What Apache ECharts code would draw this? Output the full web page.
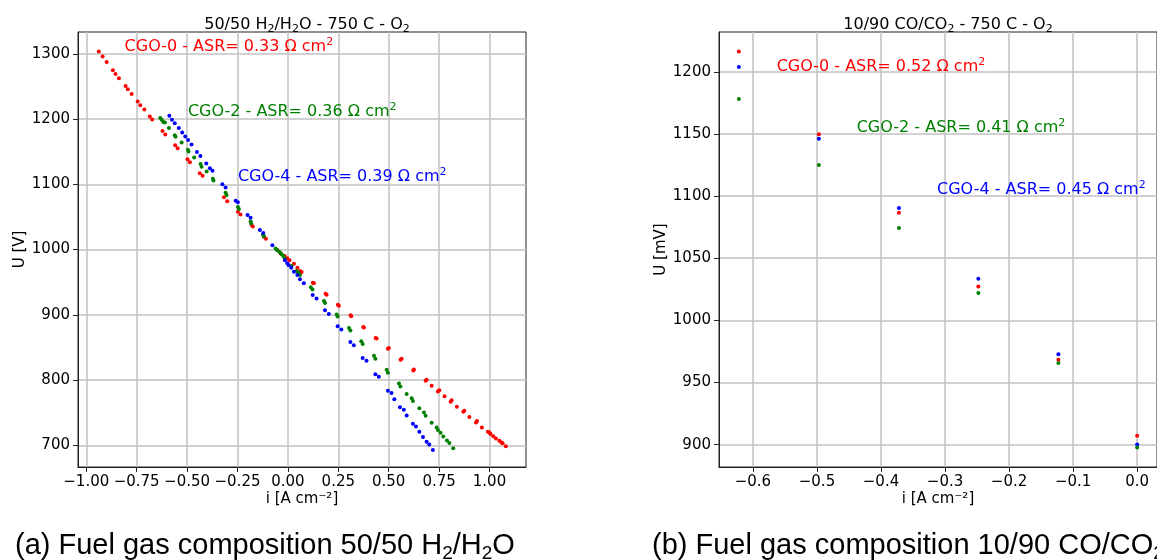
<!DOCTYPE html>
<html>
<head>
<meta charset="UTF-8">
<title>ASR CGO</title>
<script src="https://cdn.jsdelivr.net/npm/echarts@6/dist/echarts.min.js"></script>
<style>
  html, body { margin: 0; padding: 0; background: #fff; }
  #chart { width: 1157px; height: 560px; }
</style>
</head>
<body>
<div id="chart"></div>
<script>
// (a) 50/50 H2/H2O, points as [i, U]
var h2Cgo0 = [[-0.938,1303.5],[-0.919,1295.8],[-0.899,1287.7],[-0.868,1274.9],[-0.855,1269.2],[-0.838,1262.6],[-0.805,1250.7],[-0.794,1245.6],[-0.775,1238.4],[-0.745,1227.1],[-0.732,1221.4],[-0.712,1214.8],[-0.685,1204.0],[-0.673,1199.4],[-0.622,1181.8],[-0.608,1176.3],[-0.559,1159.8],[-0.547,1155.2],[-0.498,1138.5],[-0.486,1134.0],[-0.437,1117.1],[-0.423,1113.1],[-0.317,1080.1],[-0.301,1074.0],[-0.248,1058.1],[-0.235,1053.9],[-0.180,1037.6],[-0.174,1035.4],[-0.119,1019.6],[-0.109,1016.5],[-0.051,999.0],[-0.036,993.8],[-0.016,990.3],[-0.003,986.7],[0.008,983.7],[0.030,978.4],[0.047,972.3],[0.060,967.2],[0.068,965.6],[0.124,949.2],[0.129,948.2],[0.187,932.2],[0.192,930.7],[0.248,915.3],[0.253,913.7],[0.311,899.4],[0.314,897.8],[0.374,881.4],[0.377,880.4],[0.435,864.4],[0.440,863.5],[0.496,848.1],[0.501,849.0],[0.559,831.1],[0.564,832.7],[0.622,814.6],[0.625,816.2],[0.683,798.8],[0.688,800.3],[0.713,791.1],[0.744,782.3],[0.751,784.3],[0.777,775.0],[0.807,766.9],[0.812,768.9],[0.838,759.2],[0.870,751.5],[0.875,753.0],[0.900,743.3],[0.933,735.0],[0.938,737.1],[0.962,727.3],[0.992,720.7],[1.000,719.6],[1.005,717.1],[1.019,714.0],[1.032,710.3],[1.049,706.8],[1.060,704.2],[1.065,703.2],[1.081,698.6]];
var h2Cgo2 = [[-0.633,1201.8],[-0.626,1199.1],[-0.618,1195.7],[-0.610,1194.8],[-0.590,1186.4],[-0.561,1175.2],[-0.557,1172.9],[-0.527,1164.1],[-0.496,1152.9],[-0.493,1150.5],[-0.465,1141.3],[-0.433,1131.0],[-0.428,1127.0],[-0.403,1119.7],[-0.372,1108.5],[-0.369,1105.9],[-0.309,1086.9],[-0.304,1083.8],[-0.248,1065.3],[-0.243,1062.2],[-0.185,1043.1],[-0.182,1040.4],[-0.124,1023.1],[-0.119,1020.6],[-0.061,1001.5],[-0.053,999.1],[-0.040,996.0],[-0.031,992.9],[-0.023,990.3],[-0.016,986.7],[0.018,974.9],[0.043,967.2],[0.052,964.6],[0.060,961.0],[0.114,942.1],[0.122,938.7],[0.179,921.0],[0.184,917.9],[0.242,900.5],[0.247,897.4],[0.303,879.8],[0.310,875.8],[0.364,859.3],[0.371,855.2],[0.427,837.3],[0.434,832.7],[0.490,815.7],[0.496,811.1],[0.551,794.6],[0.558,790.0],[0.589,778.7],[0.614,771.9],[0.620,767.9],[0.652,756.6],[0.675,750.4],[0.683,745.3],[0.713,734.5],[0.738,727.3],[0.744,723.3],[0.757,719.2],[0.771,713.5],[0.789,707.3],[0.801,703.3],[0.820,695.5]];
var h2Cgo4 = [[-0.588,1205.2],[-0.575,1199.1],[-0.561,1193.7],[-0.541,1186.3],[-0.524,1179.5],[-0.509,1173.2],[-0.495,1168.0],[-0.478,1160.9],[-0.451,1149.5],[-0.434,1143.3],[-0.405,1132.0],[-0.387,1124.8],[-0.374,1120.8],[-0.325,1100.2],[-0.309,1095.1],[-0.259,1075.0],[-0.248,1072.4],[-0.200,1053.0],[-0.185,1048.8],[-0.139,1029.9],[-0.122,1025.3],[-0.077,1006.8],[-0.015,983.7],[-0.003,979.0],[0.003,976.4],[0.017,972.3],[0.030,966.1],[0.047,961.0],[0.060,954.4],[0.079,948.4],[0.123,930.2],[0.142,925.1],[0.184,907.1],[0.203,901.4],[0.247,882.4],[0.265,877.4],[0.310,858.2],[0.327,853.2],[0.371,833.6],[0.390,829.6],[0.434,808.9],[0.451,804.9],[0.496,783.4],[0.514,780.3],[0.528,770.4],[0.556,758.1],[0.575,754.5],[0.589,745.8],[0.620,733.0],[0.635,728.8],[0.652,720.7],[0.670,712.5],[0.688,705.3],[0.701,701.1],[0.719,692.9]];

// (b) 10/90 CO/CO2, U in mV
var coCurrent = [-0.622, -0.497, -0.372, -0.248, -0.123, 0.0];
var coCgo0 = [1216.4, 1149.7, 1086.6, 1027.2, 968.2, 907.2];
var coCgo2 = [1178.0, 1125.0, 1074.3, 1021.9, 965.6, 897.6];
var coCgo4 = [1203.8, 1146.2, 1090.4, 1033.4, 972.8, 900.2];

// tick values
var h2XTicks = [-1, -0.75, -0.5, -0.25, 0, 0.25, 0.5, 0.75, 1];
var h2YTicks = [700, 800, 900, 1000, 1100, 1200, 1300];
var coXTicks = [-0.6, -0.5, -0.4, -0.3, -0.2, -0.1, 0];
var coYTicks = [900, 950, 1000, 1050, 1100, 1150, 1200];

// annotation labels [text, i, U, colour]
var h2Notes = [['CGO-0 - ASR= 0.33 Ω cm', -0.81, 1311, '#ff0000'], ['CGO-2 - ASR= 0.36 Ω cm', -0.496, 1211, '#008000'], ['CGO-4 - ASR= 0.39 Ω cm', -0.248, 1112, '#0000ff']];
var coNotes = [['CGO-0 - ASR= 0.52 Ω cm', -0.563, 1204, '#ff0000'], ['CGO-2 - ASR= 0.41 Ω cm', -0.438, 1155, '#008000'], ['CGO-4 - ASR= 0.45 Ω cm', -0.3125, 1105, '#0000ff']];

var FONT = 'DejaVu Sans';

function fmt(dec) {
	return function(v) {
		return (v < 0 ? '\u2212' : '') + Math.abs(v).toFixed(dec);
	};
}

function xAxisOf(grid, min, max, ticks, dec) {
	return {
		type: 'value', gridIndex: grid, min: min, max: max,
		name: 'i [A cm⁻²]', nameLocation: 'middle', nameGap: 25, nameMoveOverlap: false,
		nameTextStyle: { fontFamily: FONT, fontSize: 15, color: '#000' },
		axisLine: { show: true, onZero: false, lineStyle: { color: '#222', width: 1 } },
		axisTick: { show: true, inside: false, length: 5, customValues: ticks, lineStyle: { color: '#222' } },
		axisLabel: { customValues: ticks, margin: 8, formatter: fmt(dec), fontFamily: FONT, fontSize: 15, color: '#000' },
		splitLine: { show: true, lineStyle: { color: '#c2c2c2', width: 1.5 } }
	};
}

function yAxisOf(grid, min, max, ticks, name, gap) {
	return {
		type: 'value', gridIndex: grid, min: min, max: max,
		name: name, nameLocation: 'middle', nameGap: gap, nameMoveOverlap: false,
		nameTextStyle: { fontFamily: FONT, fontSize: 15, color: '#000' },
		axisLine: { show: true, onZero: false, lineStyle: { color: '#222', width: 1 } },
		axisTick: { show: true, inside: false, length: 5, customValues: ticks, lineStyle: { color: '#222' } },
		axisLabel: { customValues: ticks, margin: 8, formatter: fmt(0), fontFamily: FONT, fontSize: 15, color: '#000' },
		splitLine: { show: true, lineStyle: { color: '#c2c2c2', width: 1.5 } }
	};
}

function dots(name, data, color, x, y) {
	return {
		name: name, type: 'scatter', xAxisIndex: x, yAxisIndex: y,
		data: data, symbolSize: 4, itemStyle: { color: color, opacity: 1 },
		silent: true, animation: false
	};
}

function zip(a, b) {
	return a.map(function(v, k) { return [v, b[k]]; });
}

// title text with real subscripts
var titleRich = {
	n: { fontFamily: FONT, fontSize: 16, color: '#000', lineHeight: 20 },
	s: { fontFamily: FONT, fontSize: 11, color: '#000', lineHeight: 20, verticalAlign: 'bottom' }
};

var chart = echarts.init(document.getElementById('chart'));

chart.setOption({
	backgroundColor: '#fff',
	animation: false,
	title: [
		{ text: '{n|50/50 H}{s|2}{n|/H}{s|2}{n|O - 750 C - O}{s|2}', left: 302, top: 10, textAlign: 'center',
			textStyle: { fontWeight: 'normal', rich: titleRich } },
		{ text: '{n|10/90 CO/CO}{s|2}{n| - 750 C - O}{s|2}', left: 943, top: 10, textAlign: 'center',
			textStyle: { fontWeight: 'normal', rich: titleRich } }
	],
	grid: [
		{ left: 78, top: 32, width: 448, height: 435, show: true, borderColor: '#222', borderWidth: 1 },
		{ left: 719, top: 32, width: 448, height: 435, show: true, borderColor: '#222', borderWidth: 1 }
	],
	xAxis: [
		xAxisOf(0, -1.041, 1.181, h2XTicks, 2),
		xAxisOf(1, -0.653, 0.031, coXTicks, 1)
	],
	yAxis: [
		yAxisOf(0, 666.7, 1333.5, h2YTicks, 'U [V]', 50),
		yAxisOf(1, 882, 1232, coYTicks, 'U [mV]', 50)
	],
	series: [
		dots('CGO-0', h2Cgo0, '#ff0000', 0, 0),
		dots('CGO-2', h2Cgo2, '#008000', 0, 0),
		dots('CGO-4', h2Cgo4, '#0000ff', 0, 0),
		dots('CGO-0', zip(coCurrent, coCgo0), '#ff0000', 1, 1),
		dots('CGO-4', zip(coCurrent, coCgo4), '#0000ff', 1, 1),
		dots('CGO-2', zip(coCurrent, coCgo2), '#008000', 1, 1)
	]
});

// annotations placed in data coordinates, captions below the panels
var graphics = [];
function addNotes(notes, grid) {
	notes.forEach(function(n) {
		var p = chart.convertToPixel({ gridIndex: grid }, [n[1], n[2]]);
		graphics.push({
			type: 'text', x: p[0], y: p[1], silent: true,
			style: {
				text: '{n|' + n[0] + '}{p|2}', fill: n[3], textAlign: 'left', textVerticalAlign: 'middle',
				rich: {
					n: { fontFamily: FONT, fontSize: 16, fill: n[3], lineHeight: 20 },
					p: { fontFamily: FONT, fontSize: 11, fill: n[3], lineHeight: 20, verticalAlign: 'top' }
				}
			}
		});
	});
}
addNotes(h2Notes, 0);
addNotes(coNotes, 1);

var capRich = {
	n: { fontFamily: 'Liberation Sans', fontSize: 29, fill: '#000', lineHeight: 34 },
	s: { fontFamily: 'Liberation Sans', fontSize: 19, fill: '#000', lineHeight: 34, verticalAlign: 'bottom' }
};
graphics.push({
	type: 'text', x: 15, y: 546, silent: true,
	style: { text: '{n|(a) Fuel gas composition 50/50 H}{s|2}{n|/H}{s|2}{n|O}', rich: capRich, textVerticalAlign: 'middle' }
});
graphics.push({
	type: 'text', x: 652, y: 546, silent: true,
	style: { text: '{n|(b) Fuel gas composition 10/90 CO/CO}{s|2}', rich: capRich, textVerticalAlign: 'middle' }
});
chart.setOption({ graphic: graphics });
</script>
</body>
</html>
